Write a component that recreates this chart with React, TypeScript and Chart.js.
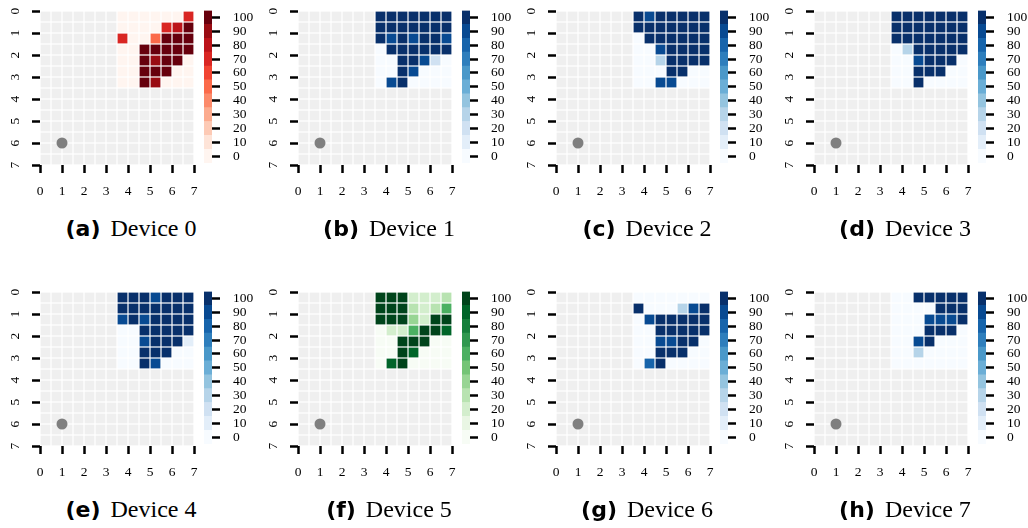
import React, { useEffect, useRef } from "react";
import { Chart, registerables } from "chart.js";

Chart.register(...registerables);

// Axis ticks of every map and of every colour bar
const AXIS_TICKS = [0, 1, 2, 3, 4, 5, 6, 7];
const COLORBAR_TICKS = [0, 10, 20, 30, 40, 50, 60, 70, 80, 90, 100];

// The map is a 14 x 14 grid of half-unit cells; the measured 7 x 7 block
// starts at cell row 0, column 7. All other cells are masked (grey).
const GRID_CELLS = 14;
const CELL = 0.5;
const BLOCK_ROW = 0;
const BLOCK_COL = 7;

// Position of the source marker
const SOURCE_X = 1;
const SOURCE_Y = 6;

// Measured values (%) per device, rows top to bottom, columns left to right
const DEVICE_0 = [
  [0, 0, 0, 0, 0, 0, 70],
  [0, 0, 0, 0, 70, 80, 100],
  [70, 0, 0, 50, 100, 100, 100],
  [0, 0, 100, 100, 100, 100, 100],
  [0, 0, 100, 90, 100, 100, 0],
  [0, 0, 100, 100, 100, 0, 0],
  [0, 0, 100, 90, 0, 0, 0],
];
const DEVICE_1 = [
  [100, 100, 100, 100, 100, 100, 100],
  [100, 100, 100, 100, 100, 100, 100],
  [100, 90, 100, 90, 100, 100, 90],
  [0, 100, 100, 100, 100, 100, 100],
  [0, 0, 100, 100, 90, 20, 0],
  [0, 0, 100, 90, 0, 0, 0],
  [0, 90, 100, 0, 0, 0, 0],
];
const DEVICE_2 = [
  [100, 90, 100, 100, 100, 100, 100],
  [100, 100, 100, 100, 100, 100, 100],
  [0, 100, 100, 100, 100, 100, 100],
  [0, 0, 90, 100, 100, 100, 100],
  [0, 0, 30, 100, 100, 100, 100],
  [0, 0, 0, 100, 100, 0, 0],
  [0, 0, 90, 90, 0, 0, 0],
];
const DEVICE_3 = [
  [100, 100, 100, 100, 100, 100, 100],
  [100, 100, 100, 100, 100, 100, 100],
  [100, 100, 100, 100, 100, 100, 100],
  [0, 30, 100, 100, 100, 100, 100],
  [0, 0, 90, 100, 100, 100, 0],
  [0, 0, 100, 100, 100, 0, 0],
  [0, 0, 100, 0, 0, 0, 0],
];
const DEVICE_4 = [
  [100, 100, 100, 90, 100, 100, 100],
  [100, 100, 100, 100, 100, 100, 100],
  [90, 100, 90, 100, 100, 100, 100],
  [0, 0, 100, 100, 100, 100, 100],
  [0, 0, 90, 100, 100, 100, 10],
  [0, 0, 100, 100, 100, 0, 0],
  [0, 0, 100, 90, 0, 0, 0],
];
const DEVICE_5 = [
  [100, 100, 100, 20, 20, 20, 30],
  [100, 100, 100, 30, 20, 30, 60],
  [100, 100, 100, 40, 20, 100, 100],
  [0, 20, 20, 60, 100, 100, 90],
  [0, 0, 100, 100, 100, 0, 0],
  [0, 0, 100, 90, 0, 0, 0],
  [0, 90, 100, 0, 0, 0, 0],
];
const DEVICE_6 = [
  [0, 0, 0, 0, 0, 0, 0],
  [100, 0, 0, 0, 30, 90, 100],
  [0, 90, 100, 100, 100, 100, 100],
  [0, 0, 100, 100, 100, 100, 100],
  [0, 0, 90, 90, 100, 100, 0],
  [0, 0, 100, 100, 100, 0, 0],
  [0, 80, 100, 0, 0, 0, 0],
];
const DEVICE_7 = [
  [0, 0, 100, 100, 100, 100, 100],
  [0, 0, 0, 0, 100, 100, 100],
  [0, 0, 0, 90, 90, 90, 100],
  [0, 0, 0, 100, 100, 100, 0],
  [0, 0, 90, 100, 0, 0, 0],
  [0, 0, 30, 0, 0, 0, 0],
  [0, 0, 0, 0, 0, 0, 0],
];

const DEVICES = [DEVICE_0, DEVICE_1, DEVICE_2, DEVICE_3, DEVICE_4, DEVICE_5, DEVICE_6, DEVICE_7];
const PANEL_LETTERS = ["a", "b", "c", "d", "e", "f", "g", "h"];
const PANEL_NAMES = ["Device 0", "Device 1", "Device 2", "Device 3", "Device 4", "Device 5", "Device 6", "Device 7"];
const PANEL_CMAPS = ["Reds", "Blues", "Blues", "Blues", "Blues", "Greens", "Blues", "Blues"];

// Sequential colour maps (ColorBrewer stops)
const CMAPS: Record<string, string[]> = {
  Reds: ["#fff5f0", "#fee0d2", "#fcbba1", "#fc9272", "#fb6a4a", "#ef3b2c", "#cb181d", "#a50f15", "#67000d"],
  Blues: ["#f7fbff", "#deebf7", "#c6dbef", "#9ecae1", "#6baed6", "#4292c6", "#2171b5", "#08519c", "#08306b"],
  Greens: ["#f7fcf5", "#e5f5e0", "#c7e9c0", "#a1d99b", "#74c476", "#41ab5d", "#238b45", "#006d2c", "#00441b"],
};
const MASK_COLOR = "#efefef";
const SOURCE_COLOR = "#7f7f7f";
const TICK_FONT = { family: "'Liberation Serif', serif", size: 13.5 };

function hexToRgb(h: string) {
  const n = parseInt(h.slice(1), 16);
  return [(n >> 16) & 255, (n >> 8) & 255, n & 255];
}

function sampleCmap(name: string, t: number) {
  const stops = CMAPS[name];
  const pos = t * (stops.length - 1);
  const i = Math.min(Math.floor(pos), stops.length - 2);
  const f = pos - i;
  const a = hexToRgb(stops[i]);
  const b = hexToRgb(stops[i + 1]);
  const c = a.map((v, k) => Math.round(v + (b[k] - v) * f));
  return `rgb(${c[0]},${c[1]},${c[2]})`;
}

// 11 discrete levels: 0, 10, ..., 100
function levelColor(name: string, v: number) {
  const bin = Math.max(0, Math.min(10, Math.round(v / 10)));
  return sampleCmap(name, bin / 10);
}

const fixedTicks = (values: number[]) => (scale: any) => {
  scale.ticks = values.map((value) => ({ value }));
};

// Rotated y tick labels drawn next to the tick marks
const yTickLabels = {
  id: "yTickLabels",
  afterDraw(chart: any) {
    const s = chart.scales.y;
    const ctx = chart.ctx;
    ctx.save();
    ctx.fillStyle = "#000";
    ctx.font = `${TICK_FONT.size}px ${TICK_FONT.family}`;
    ctx.textAlign = "center";
    ctx.textBaseline = "alphabetic";
    for (const t of s.ticks) {
      const y = s.getPixelForValue(t.value);
      ctx.save();
      ctx.translate(s.right - 21.5, y);
      ctx.rotate(-Math.PI / 2);
      ctx.fillText(String(t.value), 0, 0);
      ctx.restore();
    }
    ctx.restore();
  },
};

const tickGrid = {
  drawOnChartArea: false,
  drawTicks: true,
  tickLength: 8,
  tickWidth: 2.5,
  tickColor: "#000",
};

function Heatmap({ values, cmap, left, top }: { values: number[][]; cmap: string; left: number; top: number }) {
  const ref = useRef<HTMLCanvasElement | null>(null);
  useEffect(() => {
    const cells: any[] = [];
    const masked: any[] = [];
    for (let r = 0; r < GRID_CELLS; r++) {
      for (let c = 0; c < GRID_CELLS; c++) {
        const br = r - BLOCK_ROW;
        const bc = c - BLOCK_COL;
        const pt = { x: c * CELL + CELL / 2, y: r * CELL + CELL / 2 };
        if (br >= 0 && br < values.length && bc >= 0 && bc < values[0].length) {
          cells.push({ ...pt, v: values[br][bc] });
        } else {
          masked.push(pt);
        }
      }
    }
    const cellRadius = (ctx: any) => {
      const s = ctx.chart.scales.x;
      const w = Math.abs(s.getPixelForValue(CELL) - s.getPixelForValue(0));
      return (w - 1.2) / Math.SQRT2;
    };
    const chart = new Chart(ref.current as HTMLCanvasElement, {
      type: "scatter",
      data: {
        datasets: [
          {
            data: [{ x: SOURCE_X, y: SOURCE_Y }],
            pointStyle: "circle",
            pointRadius: 5.5,
            pointHoverRadius: 5.5,
            pointBackgroundColor: SOURCE_COLOR,
            pointBorderWidth: 0,
          },
          {
            data: cells,
            pointStyle: "rect",
            pointRadius: cellRadius,
            pointHoverRadius: cellRadius,
            pointBackgroundColor: (ctx: any) => levelColor(cmap, ctx.raw ? ctx.raw.v : 0),
            pointBorderWidth: 0,
          },
          {
            data: masked,
            pointStyle: "rect",
            pointRadius: cellRadius,
            pointHoverRadius: cellRadius,
            pointBackgroundColor: MASK_COLOR,
            pointBorderWidth: 0,
          },
        ],
      } as any,
      options: {
        animation: false,
        responsive: false,
        events: [],
        layout: { padding: { top: 11, right: 10, left: 0, bottom: 0 } },
        plugins: { legend: { display: false }, tooltip: { enabled: false } },
        scales: {
          x: {
            type: "linear",
            min: 0,
            max: 7,
            afterBuildTicks: fixedTicks(AXIS_TICKS),
            afterFit: (s: any) => {
              s.height = 40;
              s.paddingLeft = 0;
              s.paddingRight = 0;
            },
            grid: tickGrid,
            border: { display: false },
            ticks: { color: "#000", font: TICK_FONT, padding: 10, maxRotation: 0, autoSkip: false },
          },
          y: {
            type: "linear",
            reverse: true,
            min: 0,
            max: 7,
            afterBuildTicks: fixedTicks(AXIS_TICKS),
            afterFit: (s: any) => {
              s.width = 40;
              s.paddingTop = 0;
              s.paddingBottom = 0;
            },
            grid: tickGrid,
            border: { display: false },
            ticks: { display: false },
          },
        },
      } as any,
      plugins: [yTickLabels],
    });
    return () => chart.destroy();
  }, [values, cmap]);
  return <canvas ref={ref} width={204} height={205} style={{ position: "absolute", left, top }} />;
}

function Colorbar({ cmap, left, top }: { cmap: string; left: number; top: number }) {
  const ref = useRef<HTMLCanvasElement | null>(null);
  useEffect(() => {
    const chart = new Chart(ref.current as HTMLCanvasElement, {
      type: "bar",
      data: {
        labels: [""],
        datasets: COLORBAR_TICKS.map((v) => ({
          data: [[v - 5, v + 5]],
          backgroundColor: levelColor(cmap, v),
          borderWidth: 0,
          barPercentage: 1,
          categoryPercentage: 1,
          grouped: false,
        })),
      } as any,
      options: {
        animation: false,
        responsive: false,
        events: [],
        layout: { padding: { top: 10.5, bottom: 16.9, left: 0, right: 0 } },
        plugins: { legend: { display: false }, tooltip: { enabled: false } },
        scales: {
          x: { display: false },
          y: {
            position: "right",
            min: -5,
            max: 105,
            afterBuildTicks: fixedTicks(COLORBAR_TICKS),
            afterFit: (s: any) => {
              s.width = 52;
              s.paddingTop = 0;
              s.paddingBottom = 0;
            },
            grid: tickGrid,
            border: { display: false },
            ticks: { color: "#000", font: TICK_FONT, padding: 13, autoSkip: false },
          },
        },
      } as any,
    });
    return () => chart.destroy();
  }, [cmap]);
  return <canvas ref={ref} width={60} height={180} style={{ position: "absolute", left, top }} />;
}

export default function App() {
  return (
    <div
      style={{
        position: "fixed",
        left: 0,
        top: 0,
        width: 1028,
        height: 528,
        background: "#fff",
        overflow: "hidden",
      }}
    >
      {DEVICES.map((values, i) => {
        const px = 258 * (i % 4);
        const py = 281 * Math.floor(i / 4);
        return (
          <React.Fragment key={i}>
            <Heatmap values={values} cmap={PANEL_CMAPS[i]} left={px} top={py} />
            <Colorbar cmap={PANEL_CMAPS[i]} left={px + 204} top={py} />
            <div
              style={{
                position: "absolute",
                left: px,
                top: py + 215,
                width: 262,
                textAlign: "center",
                whiteSpace: "nowrap",
                lineHeight: "26px",
                color: "#000",
              }}
            >
              <span style={{ fontFamily: "'DejaVu Sans', sans-serif", fontWeight: "bold", fontSize: 22 }}>
                ({PANEL_LETTERS[i]})
              </span>
              <span style={{ fontFamily: "'Liberation Serif', serif", fontSize: 24, marginLeft: 10 }}>
                {PANEL_NAMES[i]}
              </span>
            </div>
          </React.Fragment>
        );
      })}
    </div>
  );
}
